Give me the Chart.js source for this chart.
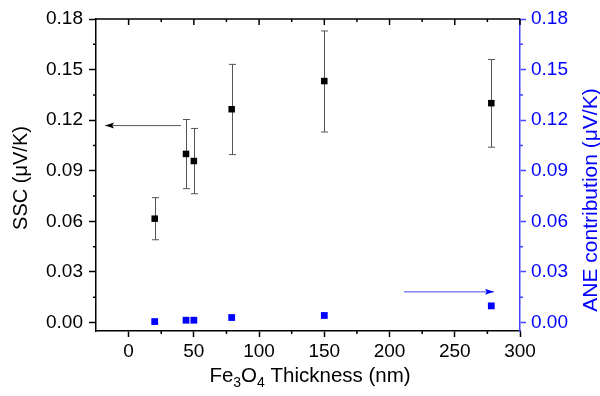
<!DOCTYPE html>
<html>
<head>
<meta charset="utf-8">
<script src="https://cdn.jsdelivr.net/npm/chart.js@4/dist/chart.umd.min.js"></script>
<style>
html,body{margin:0;padding:0;background:#fff;}
#c{display:block;}
</style>
</head>
<body>
<canvas id="c" width="600" height="396"></canvas>
<script>
// ---- data ----
const xTicks = [0, 50, 100, 150, 200, 250, 300];
const xMinorTicks = [25, 75, 125, 175, 225, 275];
const yTicks = [0, 0.03, 0.06, 0.09, 0.12, 0.15, 0.18];
const yMinorTicks = [0.015, 0.045, 0.075, 0.105, 0.135, 0.165];
const thickness = [20, 44, 50, 79, 150, 278];
const ssc = [0.0616, 0.1000, 0.0958, 0.1265, 0.1432, 0.1301];
const sscLow = [0.0491, 0.0794, 0.0764, 0.0996, 0.1130, 0.1040];
const sscHigh = [0.0741, 0.1204, 0.1151, 0.1531, 0.1729, 0.1560];
const ane = [0.0006, 0.0014, 0.0014, 0.0030, 0.0042, 0.0099];
const sscArrowX = [40, -18];
const sscArrowY = [0.1168, 0.1168];
const aneArrowX = [211, 280];
const aneArrowY = [0.0182, 0.0182];

const FONT = '"Liberation Sans", Arial, sans-serif';
const BLUE = '#0000ff';
const AXBLUE = '#4444ff';

const extras = {
  id: 'extras',
  beforeDatasetsDraw(chart) {
    const ctx = chart.ctx, xs = chart.scales.x, ys = chart.scales.y;
    ctx.save();
    ctx.strokeStyle = '#555';
    ctx.lineWidth = 1;
    for (let i = 0; i < thickness.length; i++) {
      const x = Math.round(xs.getPixelForValue(thickness[i])) + 0.5;
      const a = ys.getPixelForValue(sscLow[i]);
      const b = ys.getPixelForValue(sscHigh[i]);
      ctx.beginPath();
      ctx.moveTo(x, a); ctx.lineTo(x, b);
      ctx.moveTo(x - 3.5, a); ctx.lineTo(x + 3.5, a);
      ctx.moveTo(x - 3.5, b); ctx.lineTo(x + 3.5, b);
      ctx.stroke();
    }
    ctx.restore();
  },
  afterDatasetsDraw(chart) {
    const ctx = chart.ctx, xs = chart.scales.x, ys = chart.scales.y, y2 = chart.scales.y2;
    const area = chart.chartArea;
    ctx.save();
    // arrow heads
    let tx = xs.getPixelForValue(sscArrowX[1]), ty = ys.getPixelForValue(sscArrowY[1]);
    ctx.fillStyle = '#000';
    ctx.beginPath();
    ctx.moveTo(tx, ty); ctx.lineTo(tx + 9, ty - 3); ctx.lineTo(tx + 7, ty); ctx.lineTo(tx + 9, ty + 3); ctx.closePath();
    ctx.fill();
    tx = xs.getPixelForValue(aneArrowX[1]); ty = y2.getPixelForValue(aneArrowY[1]);
    ctx.fillStyle = BLUE;
    ctx.beginPath();
    ctx.moveTo(tx, ty); ctx.lineTo(tx - 9, ty - 3); ctx.lineTo(tx - 7, ty); ctx.lineTo(tx - 9, ty + 3); ctx.closePath();
    ctx.fill();

    // top axis line and inward ticks
    ctx.strokeStyle = '#000';
    ctx.lineWidth = 1.5;
    ctx.beginPath();
    ctx.moveTo(area.left - 0.75, area.top); ctx.lineTo(area.right, area.top);
    ctx.stroke();
    ctx.beginPath();
    xTicks.forEach(v => { const x = xs.getPixelForValue(v); ctx.moveTo(x, area.top); ctx.lineTo(x, area.top + 6); });
    xMinorTicks.forEach(v => { const x = xs.getPixelForValue(v); ctx.moveTo(x, area.top); ctx.lineTo(x, area.top + 3); });
    // bottom minor ticks
    xMinorTicks.forEach(v => { const x = xs.getPixelForValue(v); ctx.moveTo(x, area.bottom); ctx.lineTo(x, area.bottom + 3); });
    // left minor ticks
    yMinorTicks.forEach(v => { const y = ys.getPixelForValue(v); ctx.moveTo(area.left, y); ctx.lineTo(area.left - 3, y); });
    ctx.stroke();
    ctx.strokeStyle = AXBLUE;
    ctx.beginPath();
    yMinorTicks.forEach(v => { const y = y2.getPixelForValue(v); ctx.moveTo(area.right, y); ctx.lineTo(area.right + 3, y); });
    ctx.stroke();

    // axis titles
    ctx.fillStyle = '#000';
    ctx.font = '20px ' + FONT;
    ctx.textBaseline = 'alphabetic';
    // left title
    ctx.save();
    ctx.translate(27, 178);
    ctx.rotate(-Math.PI / 2);
    ctx.textAlign = 'center';
    ctx.fillText('SSC (\u03bcV/K)', 0, 0);
    ctx.restore();
    // right title
    ctx.save();
    ctx.fillStyle = BLUE;
    ctx.font = '21px ' + FONT;
    ctx.translate(597, 200);
    ctx.rotate(-Math.PI / 2);
    ctx.textAlign = 'center';
    ctx.fillText('ANE contribution (\u03bcV/K)', 0, 0);
    ctx.restore();
    // x title with subscripts
    const parts = [['Fe', 0], ['3', 1], ['O', 0], ['4', 1], [' Thickness (nm)', 0]];
    const big = '20.5px ' + FONT, small = '14px ' + FONT;
    let total = 0;
    parts.forEach(p => { ctx.font = p[1] ? small : big; total += ctx.measureText(p[0]).width; });
    let x = 310 - total / 2;
    const base = 382;
    ctx.textAlign = 'left';
    parts.forEach(p => {
      ctx.font = p[1] ? small : big;
      ctx.fillText(p[0], x, base + (p[1] ? 5 : 0));
      x += ctx.measureText(p[0]).width;
    });
    ctx.restore();
  }
};

const tickFont = { family: FONT, size: 19 };

new Chart(document.getElementById('c'), {
  type: 'scatter',
  data: {
    datasets: [
      {
        label: 'SSC',
        data: thickness.map((x, i) => ({ x: x, y: ssc[i] })),
        yAxisID: 'y',
        pointStyle: 'rect',
        pointRadius: 4.6,
        backgroundColor: '#000',
        borderWidth: 0,
        showLine: false
      },
      {
        label: 'ANE',
        data: thickness.map((x, i) => ({ x: x, y: ane[i] })),
        yAxisID: 'y2',
        pointStyle: 'rect',
        pointRadius: 4.8,
        backgroundColor: BLUE,
        borderWidth: 0,
        showLine: false
      },
      {
        type: 'line',
        label: 'ssc arrow',
        data: sscArrowX.map((x, i) => ({ x: x, y: sscArrowY[i] })),
        yAxisID: 'y',
        borderColor: '#555',
        borderWidth: 1,
        pointRadius: 0
      },
      {
        type: 'line',
        label: 'ane arrow',
        data: aneArrowX.map((x, i) => ({ x: x, y: aneArrowY[i] })),
        yAxisID: 'y2',
        borderColor: AXBLUE,
        borderWidth: 1,
        pointRadius: 0
      }
    ]
  },
  options: {
    responsive: false,
    animation: false,
    layout: { padding: { top: 19, left: 0, right: 0, bottom: 0 } },
    plugins: { legend: { display: false }, tooltip: { enabled: false } },
    scales: {
      x: {
        type: 'linear',
        position: 'bottom',
        min: -25,
        max: 300,
        afterBuildTicks: s => { s.ticks = xTicks.map(v => ({ value: v })); },
        afterFit: s => { s.height = 65; },
        ticks: { font: tickFont, color: '#000', padding: 3, maxRotation: 0, autoSkip: false },
        grid: { drawOnChartArea: false, tickLength: 6, tickColor: '#000', tickWidth: 1.5 },
        border: { color: '#000', width: 1.5 }
      },
      y: {
        type: 'linear',
        position: 'left',
        min: -0.005,
        max: 0.18,
        afterBuildTicks: s => { s.ticks = yTicks.map(v => ({ value: v })); },
        afterFit: s => { s.width = 96; },
        ticks: { font: tickFont, color: '#000', padding: 6, callback: v => Number(v).toFixed(2) },
        grid: { drawOnChartArea: false, tickLength: 7, tickColor: '#000', tickWidth: 1.5 },
        border: { color: '#000', width: 1.5 }
      },
      y2: {
        type: 'linear',
        position: 'right',
        min: -0.005,
        max: 0.18,
        afterBuildTicks: s => { s.ticks = yTicks.map(v => ({ value: v })); },
        afterFit: s => { s.width = 80; },
        ticks: { font: tickFont, color: BLUE, padding: 5, callback: v => Number(v).toFixed(2) },
        grid: { drawOnChartArea: false, tickLength: 6, tickColor: AXBLUE, tickWidth: 1.5 },
        border: { color: AXBLUE, width: 1.5 }
      }
    }
  },
  plugins: [extras]
});
</script>
</body>
</html>
